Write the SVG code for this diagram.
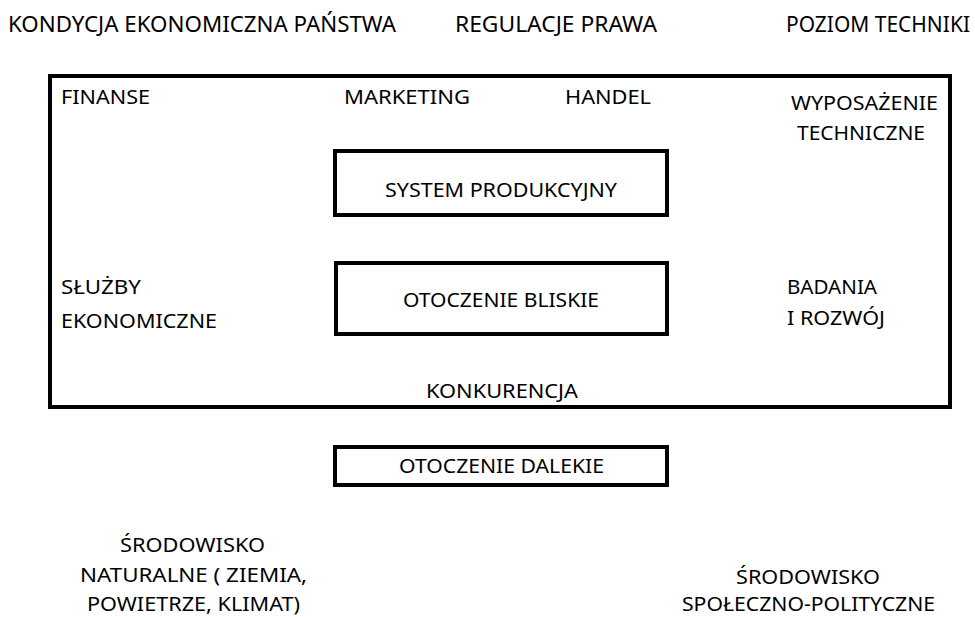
<svg xmlns="http://www.w3.org/2000/svg" width="975" height="617" viewBox="0 0 975 617">
<style>
text{font-family:"Noto Sans","Liberation Sans",sans-serif;font-size:20px;fill:#000}
.top{font-size:21.5px}
.box{fill:#fff;stroke:#000;stroke-width:4}
</style>
<rect width="975" height="617" fill="#fff"/>
<g id="top-labels">
<text class="top" x="8" y="32" textLength="388" lengthAdjust="spacingAndGlyphs">KONDYCJA EKONOMICZNA PAŃSTWA</text>
<text class="top" x="455" y="32" textLength="202" lengthAdjust="spacingAndGlyphs">REGULACJE PRAWA</text>
<text class="top" x="786" y="32" textLength="184" lengthAdjust="spacingAndGlyphs">POZIOM TECHNIKI</text>
</g>
<g id="otoczenie-bliskie-frame">
<rect class="box" x="50" y="76" width="900" height="331"/>
<text x="61" y="104" textLength="89" lengthAdjust="spacingAndGlyphs">FINANSE</text>
<text x="344" y="104" textLength="126" lengthAdjust="spacingAndGlyphs">MARKETING</text>
<text x="565" y="104" textLength="86" lengthAdjust="spacingAndGlyphs">HANDEL</text>
<text x="791" y="110" textLength="147" lengthAdjust="spacingAndGlyphs">WYPOSAŻENIE</text>
<text x="797" y="140" textLength="128" lengthAdjust="spacingAndGlyphs">TECHNICZNE</text>
<text x="61" y="294" textLength="80" lengthAdjust="spacingAndGlyphs">SŁUŻBY</text>
<text x="61" y="328" textLength="156" lengthAdjust="spacingAndGlyphs">EKONOMICZNE</text>
<text x="787" y="294" textLength="90" lengthAdjust="spacingAndGlyphs">BADANIA</text>
<text x="787" y="325" textLength="98" lengthAdjust="spacingAndGlyphs">I ROZWÓJ</text>
<text x="426" y="398" textLength="152" lengthAdjust="spacingAndGlyphs">KONKURENCJA</text>
</g>
<g id="system-produkcyjny">
<rect class="box" x="335" y="151" width="332" height="64"/>
<text x="385" y="197" textLength="232" lengthAdjust="spacingAndGlyphs">SYSTEM PRODUKCYJNY</text>
</g>
<g id="otoczenie-bliskie">
<rect class="box" x="336" y="263" width="331" height="71"/>
<text x="403" y="307" textLength="196" lengthAdjust="spacingAndGlyphs">OTOCZENIE BLISKIE</text>
</g>
<g id="otoczenie-dalekie">
<rect class="box" x="335" y="447" width="332" height="38"/>
<text x="399" y="473" textLength="205" lengthAdjust="spacingAndGlyphs">OTOCZENIE DALEKIE</text>
</g>
<g id="srodowisko-naturalne">
<text x="120" y="552" textLength="145" lengthAdjust="spacingAndGlyphs">ŚRODOWISKO</text>
<text x="80" y="582" textLength="227" lengthAdjust="spacingAndGlyphs">NATURALNE ( ZIEMIA,</text>
<text x="87" y="611" textLength="213" lengthAdjust="spacingAndGlyphs">POWIETRZE, KLIMAT)</text>
</g>
<g id="srodowisko-spoleczno-polityczne">
<text x="736" y="584" textLength="144" lengthAdjust="spacingAndGlyphs">ŚRODOWISKO</text>
<text x="682" y="611" textLength="253" lengthAdjust="spacingAndGlyphs">SPOŁECZNO-POLITYCZNE</text>
</g>
<g id="connectors"/>
</svg>
